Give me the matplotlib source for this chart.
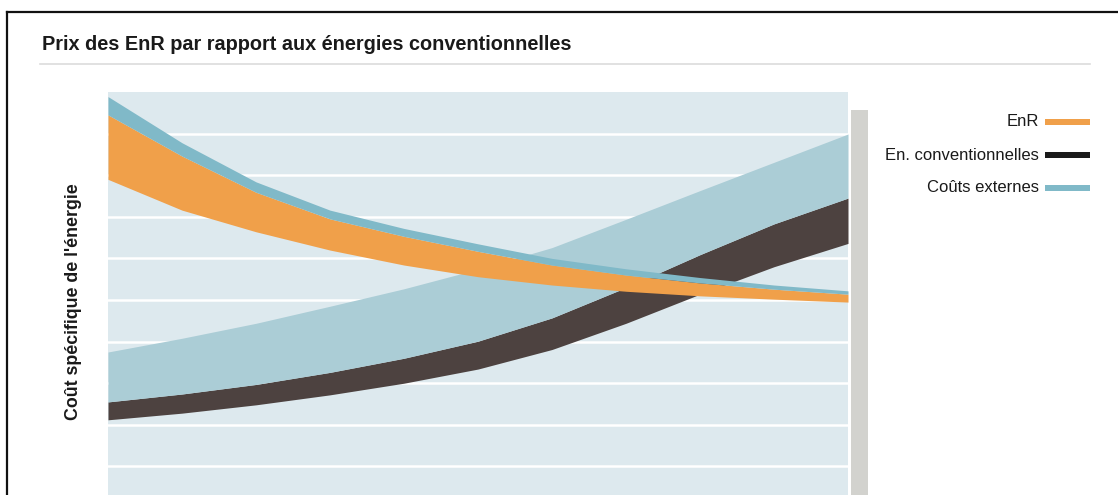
import numpy as np
import matplotlib.pyplot as plt
from matplotlib.lines import Line2D
from matplotlib.patches import Rectangle

# ============================================================
# 1. DATA (specific cost index, arbitrary units)
# ============================================================

t = [0.0, 0.1, 0.2, 0.3, 0.4, 0.5, 0.6, 0.7, 0.8, 0.9, 1.0]

# Renewable energies: cost range + external costs on top
enr_low = [79.0, 71.6, 66.4, 62.0, 58.4, 55.6, 53.6, 52.1, 51.0, 50.2, 49.5]
enr_high = [94.5, 84.6, 75.9, 69.5, 65.3, 61.7, 58.4, 56.0, 54.1, 52.6, 51.4]
enr_ext = [98.9, 87.8, 78.4, 71.6, 67.2, 63.5, 60.0, 57.5, 55.4, 53.6, 52.2]

# Conventional energies: cost range + external costs on top
conv_low = [21.2, 22.8, 24.8, 27.2, 30.0, 33.4, 38.1, 44.4, 51.4, 58.0, 63.6]
conv_high = [25.5, 27.4, 29.7, 32.6, 36.0, 40.1, 45.7, 53.0, 60.9, 68.3, 74.5]
conv_ext = [37.5, 40.8, 44.4, 48.5, 52.7, 57.4, 62.6, 69.4, 76.3, 83.1, 89.9]

grid_levels = [10, 20, 30, 40, 50, 60, 70, 80, 90]

legend_labels = ['EnR', 'En. conventionnelles', 'Coûts externes']

# ============================================================
# 2. COLORS
# ============================================================

C_BG = '#dde9ee'
C_ORANGE = '#f0a04a'
C_BROWN = '#4d4240'
C_EXT_CONV = '#abcdd6'
C_EXT_ENR = '#80b9c8'
C_BAR = '#d2d2ce'

# ============================================================
# 3. FIGURE
# ============================================================

W, H = 1118, 495
fig = plt.figure(figsize=(W / 100, H / 100), dpi=100)
fig.patch.set_facecolor('white')
plt.rcParams['font.family'] = ['Liberation Sans', 'DejaVu Sans']

def fx(px):
    return px / W

def fy(py):
    return 1 - py / H

# outer frame (left and top edges visible)
fig.add_artist(Line2D([fx(7), fx(W)], [fy(12), fy(12)], color='#111111', lw=1.6))
fig.add_artist(Line2D([fx(7), fx(7)], [fy(12), fy(H)], color='#111111', lw=1.6))

# title + separator
fig.text(fx(42), fy(44), 'Prix des EnR par rapport aux énergies conventionnelles',
         fontsize=14.3, fontweight='bold', color='#1a1a1a', va='center', ha='left')
fig.add_artist(Line2D([fx(40), fx(1090)], [fy(64), fy(64)], color='#dcdcdc', lw=1.2))

# y label
fig.text(fx(74), fy(302), "Coût spécifique de l'énergie", rotation=90,
         fontsize=12.8, fontweight='bold', color='#1a1a1a', va='center', ha='center')

# ============================================================
# 4. PLOT AREA
# ============================================================

ax = fig.add_axes([fx(108), fy(508), (848 - 108) / W, 416 / H])
ax.set_facecolor(C_BG)
ax.set_xlim(0, 1)
ax.set_ylim(0, 100)
for lvl in grid_levels:
    ax.axhline(lvl, color='white', lw=1.8, zorder=1)

# conventional energies first, renewables drawn over them
ax.fill_between(t, conv_low, conv_high, color=C_BROWN, lw=0, zorder=2)
ax.fill_between(t, conv_high, conv_ext, color=C_EXT_CONV, lw=0, zorder=2)
ax.fill_between(t, enr_low, enr_high, color=C_ORANGE, lw=0, zorder=3)
ax.fill_between(t, enr_high, enr_ext, color=C_EXT_ENR, lw=0, zorder=3)

ax.set_xticks([])
ax.set_yticks([])
for s in ax.spines.values():
    s.set_visible(False)

# gray side bar
fig.add_artist(Rectangle((fx(851), 0), (868 - 851) / W, fy(110), color=C_BAR, lw=0))

# ============================================================
# 5. LEGEND
# ============================================================

legend_colors = [C_ORANGE, '#1a1a1a', C_EXT_ENR]
legend_y = [122, 155, 188]
for lab, col, yy in zip(legend_labels, legend_colors, legend_y):
    fig.text(fx(1039), fy(yy), lab, fontsize=12, color='#1a1a1a',
             ha='right', va='center')
    fig.add_artist(Rectangle((fx(1045), fy(yy + 3)), 45 / W, 6 / H,
                             color=col, lw=0))

plt.savefig('out.png', dpi=100)
plt.close()
